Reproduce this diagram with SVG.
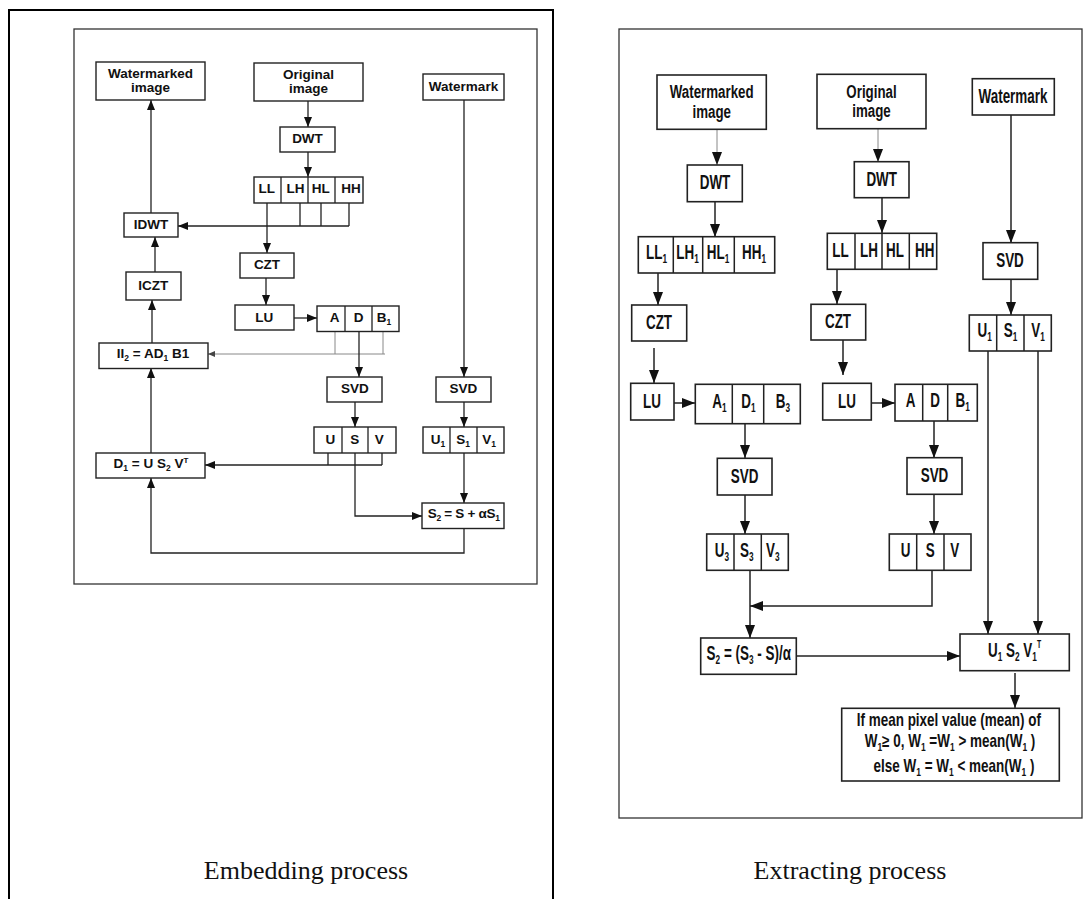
<svg xmlns="http://www.w3.org/2000/svg" width="1091" height="899" viewBox="0 0 1091 899">
<style>
.frame{fill:none;stroke:#000;stroke-width:2}
.panel{fill:none;stroke:#333;stroke-width:1.3}
.bl{fill:#fff;stroke:#222;stroke-width:1.4}
.br{fill:#fff;stroke:#222;stroke-width:1.6}
.dl{stroke:#222;stroke-width:1.3}
.dr{stroke:#222;stroke-width:1.5}
.cl{fill:none;stroke:#222;stroke-width:1.3}
.cr{fill:none;stroke:#222;stroke-width:1.5}
.cg{fill:none;stroke:#888;stroke-width:1}
.l{font-family:"Liberation Sans",Arial,sans-serif;font-weight:bold;font-size:13.5px;text-anchor:middle;fill:#111}
.r{font-family:"Liberation Sans",Arial,sans-serif;font-weight:bold;font-size:19.5px;text-anchor:middle;fill:#111}
.rt{font-family:"Liberation Sans",Arial,sans-serif;font-weight:bold;font-size:18.5px;text-anchor:middle;fill:#111}
.rs{font-family:"Liberation Sans",Arial,sans-serif;font-weight:bold;font-size:17.5px;text-anchor:middle;fill:#111}
.cap{font-family:"Liberation Serif","Times New Roman",serif;font-size:26px;text-anchor:middle;fill:#111}
</style>
<defs>
<marker id="al" markerUnits="userSpaceOnUse" markerWidth="10" markerHeight="8" refX="10" refY="4" orient="auto" viewBox="0 0 10 8"><path d="M0,0 L10,4 L0,8z" fill="#111"/></marker>
<marker id="ar" markerUnits="userSpaceOnUse" markerWidth="13" markerHeight="10" refX="13" refY="5" orient="auto" viewBox="0 0 13 10"><path d="M0,0 L13,5 L0,10z" fill="#111"/></marker>
<marker id="ag" markerUnits="userSpaceOnUse" markerWidth="7" markerHeight="6" refX="7" refY="3" orient="auto" viewBox="0 0 7 6"><path d="M0,0 L7,3 L0,6z" fill="#444"/></marker>
</defs>
<rect width="1091" height="899" fill="#fff"/>
<path class="frame" d="M9,899 V10 H553 V899"/>
<rect class="panel" x="74" y="29" width="463" height="555"/>
<rect class="panel" x="619" y="29" width="463" height="789"/>
<text class="cap" x="306" y="879">Embedding process</text>
<text class="cap" x="850" y="879">Extracting process</text>

<g id="connectors">
<path class="cl" d="M308,101 V127" marker-end="url(#al)"/>
<path class="cl" d="M308,152 V177" marker-end="url(#al)"/>
<path class="cl" d="M267,203 V253" marker-end="url(#al)"/>
<path class="cl" d="M266,278 V305" marker-end="url(#al)"/>
<path class="cl" d="M294,318 H317" marker-end="url(#al)"/>
<path class="cl" d="M300,203 V226 M321,203 V226 M349,203 V226"/>
<path class="cl" d="M349,226 H178" marker-end="url(#al)"/>
<path class="cl" d="M151,213 V100" marker-end="url(#al)"/>
<path class="cl" d="M155,272 V237" marker-end="url(#al)"/>
<path class="cl" d="M152,343 V300" marker-end="url(#al)"/>
<path class="cg" d="M335,331 V354 M383,331 V354"/>
<path class="cg" d="M385,354 H208" marker-end="url(#ag)"/>
<path class="cl" d="M359,331 V377" marker-end="url(#al)"/>
<path class="cl" d="M355,402 V427" marker-end="url(#al)"/>
<path class="cl" d="M464,100 V377" marker-end="url(#al)"/>
<path class="cl" d="M464,402 V427" marker-end="url(#al)"/>
<path class="cl" d="M328,453 V465 M382,453 V465"/>
<path class="cl" d="M382,465 H205" marker-end="url(#al)"/>
<path class="cl" d="M355,453 V516 H422" marker-end="url(#al)"/>
<path class="cl" d="M464,453 V503" marker-end="url(#al)"/>
<path class="cl" d="M464,528 V553 H151 V478" marker-end="url(#al)"/>
<path class="cl" d="M151,453 V368" marker-end="url(#al)"/>

<path class="cg" d="M717,129 V165" marker-end="url(#ar)"/>
<path class="cr" d="M715,202 V237" marker-end="url(#ar)"/>
<path class="cr" d="M658,273 V305" marker-end="url(#ar)"/>
<path class="cr" d="M654,348 V383" marker-end="url(#ar)"/>
<path class="cr" d="M674,403 H695" marker-end="url(#ar)"/>
<path class="cr" d="M745,424 V458" marker-end="url(#ar)"/>
<path class="cr" d="M745,495 V534" marker-end="url(#ar)"/>
<path class="cr" d="M750,570 V638" marker-end="url(#ar)"/>
<path class="cr" d="M932,570 V606 H750" marker-end="url(#ar)"/>
<path class="cg" d="M878,129 V162" marker-end="url(#ar)"/>
<path class="cr" d="M882,198 V233" marker-end="url(#ar)"/>
<path class="cr" d="M837,269 V304" marker-end="url(#ar)"/>
<path class="cr" d="M843,340 V375" marker-end="url(#ar)"/>
<path class="cr" d="M871,403 H895" marker-end="url(#ar)"/>
<path class="cr" d="M934,421 V458" marker-end="url(#ar)"/>
<path class="cr" d="M934,494 V534" marker-end="url(#ar)"/>
<path class="cr" d="M1011,115 V243" marker-end="url(#ar)"/>
<path class="cr" d="M1011,279 V315" marker-end="url(#ar)"/>
<path class="cr" d="M988,351 V634" marker-end="url(#ar)"/>
<path class="cr" d="M1038,351 V634" marker-end="url(#ar)"/>
<path class="cr" d="M796,656 H960" marker-end="url(#ar)"/>
<path class="cr" d="M1015,673 V708" marker-end="url(#ar)"/>
</g>

<!-- Embedding process nodes -->
<g id="e-watermarked">
<rect class="bl" x="96" y="62" width="109" height="38"/>
<text class="l" x="150.5" y="78.3">Watermarked</text>
<text class="l" x="150.5" y="91.7">image</text>
</g>
<g id="e-original">
<rect class="bl" x="254" y="63" width="109" height="38"/>
<text class="l" x="308.5" y="79.3">Original</text>
<text class="l" x="308.5" y="92.7">image</text>
</g>
<g id="e-watermark">
<rect class="bl" x="423" y="74" width="81" height="26"/>
<text class="l" x="463.5" y="91">Watermark</text>
</g>
<g id="e-dwt">
<rect class="bl" x="280" y="127" width="55" height="25"/>
<text class="l" x="307.5" y="143.3">DWT</text>
</g>
<g id="e-bands">
<rect class="bl" x="254" y="177" width="109" height="26"/>
<path class="dl" d="M281,177 V203 M308,177 V203 M335,177 V203"/>
<text class="l" x="266.7" y="193.3">LL</text>
<text class="l" x="295.5" y="193.3">LH</text>
<text class="l" x="320.8" y="193.3">HL</text>
<text class="l" x="351" y="193.3">HH</text>
</g>
<g id="e-idwt">
<rect class="bl" x="124" y="213" width="54" height="24"/>
<text class="l" x="151" y="229.3">IDWT</text>
</g>
<g id="e-czt">
<rect class="bl" x="240" y="253" width="54" height="25"/>
<text class="l" x="267" y="269.3">CZT</text>
</g>
<g id="e-iczt">
<rect class="bl" x="126" y="272" width="55" height="28"/>
<text class="l" x="153.3" y="290">ICZT</text>
</g>
<g id="e-lu">
<rect class="bl" x="235" y="305" width="59" height="25"/>
<text class="l" x="264.3" y="321.7">LU</text>
</g>
<g id="e-adb">
<rect class="bl" x="317" y="306" width="82" height="25.5"/>
<path class="dl" d="M345,306 V331.5 M372,306 V331.5"/>
<text class="l" x="334.7" y="321.7">A</text>
<text class="l" x="358.7" y="321.7">D</text>
<text class="l" x="384" y="321.7">B<tspan dy="3" font-size="8.5">1</tspan></text>
</g>
<g id="e-ii2">
<rect class="bl" x="99" y="343" width="109" height="25.5"/>
<text class="l" x="153" y="358.3">II<tspan dy="3" font-size="8.5">2</tspan><tspan dy="-3"> = AD</tspan><tspan dy="3" font-size="8.5">1</tspan><tspan dy="-3"> B1</tspan></text>
</g>
<g id="e-svd1">
<rect class="bl" x="327" y="377" width="55" height="25"/>
<text class="l" x="354.8" y="393.3">SVD</text>
</g>
<g id="e-svd2">
<rect class="bl" x="436" y="377" width="55" height="25"/>
<text class="l" x="463.3" y="393.3">SVD</text>
</g>
<g id="e-usv">
<rect class="bl" x="314" y="427" width="82" height="26"/>
<path class="dl" d="M342,427 V453 M368,427 V453"/>
<text class="l" x="330.3" y="444">U</text>
<text class="l" x="354.8" y="444">S</text>
<text class="l" x="379.2" y="444">V</text>
</g>
<g id="e-usv1">
<rect class="bl" x="423" y="427" width="81" height="26"/>
<path class="dl" d="M450,427 V453 M477,427 V453"/>
<text class="l" x="438" y="444">U<tspan dy="3" font-size="8.5">1</tspan></text>
<text class="l" x="463" y="444">S<tspan dy="3" font-size="8.5">1</tspan></text>
<text class="l" x="489" y="444">V<tspan dy="3" font-size="8.5">1</tspan></text>
</g>
<g id="e-d1">
<rect class="bl" x="96" y="453" width="109" height="25"/>
<text class="l" x="151" y="468.3">D<tspan dy="3" font-size="8.5">1</tspan><tspan dy="-3"> = U S</tspan><tspan dy="3" font-size="8.5">2</tspan><tspan dy="-3"> V</tspan><tspan dy="-5" font-size="8">T</tspan></text>
</g>
<g id="e-s2">
<rect class="bl" x="422" y="503" width="82" height="25.5"/>
<text class="l" x="463.7" y="518.3" letter-spacing="-0.3">S<tspan dy="3" font-size="8.5">2</tspan><tspan dy="-3"> = S + αS</tspan><tspan dy="3" font-size="8.5">1</tspan></text>
</g>

<!-- Extracting process nodes -->
<g id="x-watermarked">
<rect class="br" x="657" y="75" width="109.3" height="54.3"/>
<text class="rt" transform="translate(711.7,98) scale(0.72,1)">Watermarked</text>
<text class="rt" transform="translate(711.7,117.5) scale(0.72,1)">image</text>
</g>
<g id="x-original">
<rect class="br" x="817" y="74.3" width="109" height="54.4"/>
<text class="rt" transform="translate(871.5,97.5) scale(0.72,1)">Original</text>
<text class="rt" transform="translate(871.5,117) scale(0.72,1)">image</text>
</g>
<g id="x-watermark">
<rect class="br" x="972.3" y="78.7" width="82" height="36.3"/>
<text class="r" transform="translate(1013,102.7) scale(0.69,1)">Watermark</text>
</g>
<g id="x-dwt1">
<rect class="br" x="687.3" y="165" width="55" height="36.7"/>
<text class="r" transform="translate(715,189.3) scale(0.69,1)">DWT</text>
</g>
<g id="x-dwt2">
<rect class="br" x="854.3" y="161.7" width="54.7" height="36"/>
<text class="r" transform="translate(881.7,186) scale(0.69,1)">DWT</text>
</g>
<g id="x-bands1">
<rect class="br" x="638.3" y="236.7" width="136.4" height="36.3"/>
<path class="dr" d="M673.3,236.7 V273 M702.7,236.7 V273 M734.3,236.7 V273"/>
<text class="r" transform="translate(656.5,259) scale(0.69,1)">LL<tspan dy="4" font-size="12">1</tspan></text>
<text class="r" transform="translate(687.5,259) scale(0.69,1)">LH<tspan dy="4" font-size="12">1</tspan></text>
<text class="r" transform="translate(718,259) scale(0.69,1)">HL<tspan dy="4" font-size="12">1</tspan></text>
<text class="r" transform="translate(754,259) scale(0.69,1)">HH<tspan dy="4" font-size="12">1</tspan></text>
</g>
<g id="x-bands2">
<rect class="br" x="827.3" y="233.3" width="109.4" height="36"/>
<path class="dr" d="M855,233.3 V269.3 M882,233.3 V269.3 M909.3,233.3 V269.3"/>
<text class="r" transform="translate(840.5,257.3) scale(0.69,1)">LL</text>
<text class="r" transform="translate(869,257.3) scale(0.69,1)">LH</text>
<text class="r" transform="translate(895,257.3) scale(0.69,1)">HL</text>
<text class="r" transform="translate(924.7,257.3) scale(0.69,1)">HH</text>
</g>
<g id="x-czt1">
<rect class="br" x="631.7" y="305" width="55" height="36"/>
<text class="r" transform="translate(659,329.3) scale(0.69,1)">CZT</text>
</g>
<g id="x-czt2">
<rect class="br" x="811" y="304.3" width="54.7" height="35.7"/>
<text class="r" transform="translate(838,328.3) scale(0.69,1)">CZT</text>
</g>
<g id="x-svd3">
<rect class="br" x="983" y="242.7" width="54.7" height="36.6"/>
<text class="r" transform="translate(1010,267.3) scale(0.69,1)">SVD</text>
</g>
<g id="x-usv1">
<rect class="br" x="969.3" y="315" width="82" height="36"/>
<path class="dr" d="M996.7,315 V351 M1024,315 V351"/>
<text class="r" transform="translate(984.7,336.7) scale(0.69,1)">U<tspan dy="4" font-size="12">1</tspan></text>
<text class="r" transform="translate(1010.5,336.7) scale(0.69,1)">S<tspan dy="4" font-size="12">1</tspan></text>
<text class="r" transform="translate(1038,336.7) scale(0.69,1)">V<tspan dy="4" font-size="12">1</tspan></text>
</g>
<g id="x-lu1">
<rect class="br" x="630.7" y="383.3" width="43.3" height="36.7"/>
<text class="r" transform="translate(652,408.3) scale(0.69,1)">LU</text>
</g>
<g id="x-adb1">
<rect class="br" x="695.3" y="384.3" width="105" height="39.4"/>
<path class="dr" d="M732.3,384.3 V423.7 M763.7,384.3 V423.7"/>
<text class="r" transform="translate(719.5,408.3) scale(0.69,1)">A<tspan dy="4" font-size="12">1</tspan></text>
<text class="r" transform="translate(748.5,408.3) scale(0.69,1)">D<tspan dy="4" font-size="12">1</tspan></text>
<text class="r" transform="translate(783,408.3) scale(0.69,1)">B<tspan dy="4" font-size="12">3</tspan></text>
</g>
<g id="x-lu2">
<rect class="br" x="822.7" y="383.3" width="48.6" height="36.7"/>
<text class="r" transform="translate(847,408.3) scale(0.69,1)">LU</text>
</g>
<g id="x-adb2">
<rect class="br" x="895" y="384.3" width="82.3" height="36.7"/>
<path class="dr" d="M922.7,384.3 V421 M947.7,384.3 V421"/>
<text class="r" transform="translate(910.5,406.7) scale(0.69,1)">A</text>
<text class="r" transform="translate(935,406.7) scale(0.69,1)">D</text>
<text class="r" transform="translate(962.7,406.7) scale(0.69,1)">B<tspan dy="4" font-size="12">1</tspan></text>
</g>
<g id="x-svd1">
<rect class="br" x="717.3" y="458.3" width="54.7" height="36.7"/>
<text class="r" transform="translate(744.7,482.7) scale(0.69,1)">SVD</text>
</g>
<g id="x-svd2">
<rect class="br" x="907" y="457.7" width="55" height="36.6"/>
<text class="r" transform="translate(934.5,482) scale(0.69,1)">SVD</text>
</g>
<g id="x-usv3">
<rect class="br" x="706.7" y="534" width="81.6" height="36.3"/>
<path class="dr" d="M734,534 V570.3 M761.3,534 V570.3"/>
<text class="r" transform="translate(722,556.7) scale(0.69,1)">U<tspan dy="4" font-size="12">3</tspan></text>
<text class="r" transform="translate(746.7,556.7) scale(0.69,1)">S<tspan dy="4" font-size="12">3</tspan></text>
<text class="r" transform="translate(772.7,556.7) scale(0.69,1)">V<tspan dy="4" font-size="12">3</tspan></text>
</g>
<g id="x-usv">
<rect class="br" x="889.3" y="534" width="81.7" height="36.3"/>
<path class="dr" d="M916.7,534 V570.3 M944,534 V570.3"/>
<text class="r" transform="translate(905.5,556.7) scale(0.69,1)">U</text>
<text class="r" transform="translate(930.3,556.7) scale(0.69,1)">S</text>
<text class="r" transform="translate(954.7,556.7) scale(0.69,1)">V</text>
</g>
<g id="x-s2">
<rect class="br" x="700.7" y="638" width="95.6" height="36.3"/>
<text class="r" transform="translate(748.8,660) scale(0.69,1)">S<tspan dy="4" font-size="12">2</tspan><tspan dy="-4"> = (S</tspan><tspan dy="4" font-size="12">3</tspan><tspan dy="-4"> - S)/α</tspan></text>
</g>
<g id="x-usvt">
<rect class="br" x="960" y="634" width="109.3" height="36.7"/>
<text class="r" transform="translate(1014.5,656.7) scale(0.69,1)">U<tspan dy="4" font-size="12">1</tspan><tspan dy="-4"> S</tspan><tspan dy="4" font-size="12">2</tspan><tspan dy="-4"> V</tspan><tspan dy="4" font-size="12">1</tspan><tspan dy="-13" font-size="10">T</tspan></text>
</g>
<g id="x-threshold">
<rect class="br" x="841.7" y="708.3" width="217.6" height="72.7"/>
<text class="rs" transform="translate(948.8,726) scale(0.77,1)">If mean pixel value (mean) of</text>
<text class="rs" transform="translate(950,746.7) scale(0.77,1)">W<tspan dy="4" font-size="11">1</tspan><tspan dy="-4">≥  0, W</tspan><tspan dy="4" font-size="11">1</tspan><tspan dy="-4"> =W</tspan><tspan dy="4" font-size="11">1</tspan><tspan dy="-4">  &gt; mean(W</tspan><tspan dy="4" font-size="11">1</tspan><tspan dy="-4"> )</tspan></text>
<text class="rs" transform="translate(954,771.7) scale(0.77,1)">else  W<tspan dy="4" font-size="11">1</tspan><tspan dy="-4"> = W</tspan><tspan dy="4" font-size="11">1</tspan><tspan dy="-4"> &lt; mean(W</tspan><tspan dy="4" font-size="11">1</tspan><tspan dy="-4"> )</tspan></text>
</g>
</svg>
